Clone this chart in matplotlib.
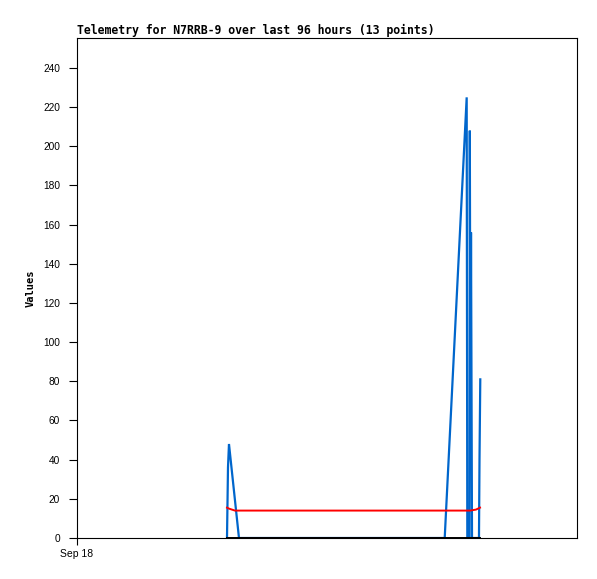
import matplotlib
matplotlib.use("Agg")
import matplotlib.pyplot as plt

# hours since Sep 18 00:00 (axis spans 96 hours)
blue_hours = [28.8, 28.99, 29.18, 31.1, 70.6, 74.82, 74.94, 75.36, 75.42, 75.55, 75.65, 75.84, 77.18, 77.28, 77.43]
blue_values = [0, 36, 48, 0, 0, 225, 0, 0, 208, 52, 156, 0, 0, 40, 81]
red_hours = [28.8, 29.18, 30.33, 75.46, 76.6, 77.38]
red_values = [15.5, 15, 14, 14, 14.5, 15.5]
black_hours = [28.8, 77.38]
black_values = [0, 0]
x_ticks = [0]
x_tick_labels = ["Sep 18"]
y_ticks = list(range(0, 241, 20))
title = "Telemetry for N7RRB-9 over last 96 hours (13 points)"

W, H = 597, 579
fig = plt.figure(figsize=(W / 100, H / 100), dpi=100)
ax = fig.add_axes([77 / W, 1 - 538 / H, 500 / W, 500 / H])

ax.plot(blue_hours, blue_values, color="#0066cc", linewidth=1.6, solid_joinstyle="miter")
ax.plot(red_hours, red_values, color="#ff0000", linewidth=1.4)
ax.plot(black_hours, black_values, color="#000000", linewidth=1.4)

ax.set_xlim(0, 96)
ax.set_ylim(0, 255.3)
ax.set_xticks(x_ticks)
ax.set_xticklabels(x_tick_labels, family="Liberation Sans", fontsize=7.5)
ax.set_yticks(y_ticks)
ax.set_yticklabels([str(v) for v in y_ticks], family="Liberation Sans", fontsize=7.3)
ax.tick_params(axis="y", direction="out", length=5.8, width=0.8, pad=6.5)
ax.tick_params(axis="x", direction="out", length=5.0, width=0.8, pad=3)
for s in ax.spines.values():
    s.set_linewidth(0.8)
    s.set_color("black")

ax.set_ylabel("Values", family="DejaVu Sans Mono", fontweight="bold", fontsize=7.5, labelpad=5)
ax.set_title(title, family="DejaVu Sans Mono", fontweight="bold", fontsize=8.3, loc="left", pad=3)

fig.savefig("out.png", dpi=100)
